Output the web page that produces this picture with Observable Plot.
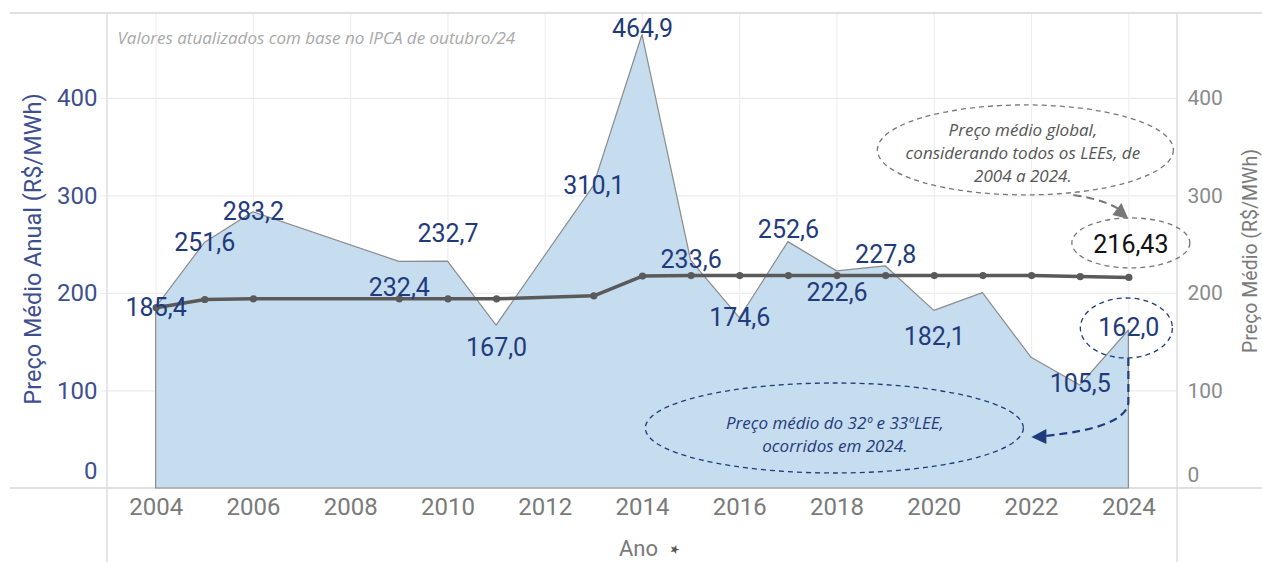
<!DOCTYPE html>
<html><head><meta charset="utf-8">
<script src="https://cdn.jsdelivr.net/npm/d3@7"></script>
<script src="https://cdn.jsdelivr.net/npm/@observablehq/plot@0.6"></script>
<style>
html,body{margin:0;padding:0;background:#fff;}
#chart{width:1262px;height:562px;overflow:hidden;}
#chart svg{overflow:visible;}
</style></head><body><div id="chart"></div>
<script>
// ---- data ----
const years         = [2004, 2005, 2006, 2009, 2010, 2011, 2013, 2014, 2015, 2016, 2017, 2018, 2019, 2020, 2021, 2022, 2023, 2024];
const annualPrice   = [185.4, 251.6, 283.2, 232.4, 232.7, 167.0, 310.1, 464.9, 233.6, 174.6, 252.6, 222.6, 227.8, 182.1, 200.3, 134.0, 105.5, 162.0];
const globalAverage = [185.4, 193.8, 194.5, 194.5, 194.5, 194.5, 197.5, 217.8, 218.3, 218.3, 218.3, 218.3, 218.3, 218.3, 218.3, 218.3, 217.3, 216.43];
const labeledYears  = [2004, 2005, 2006, 2009, 2010, 2011, 2013, 2014, 2015, 2016, 2017, 2018, 2019, 2020, 2023, 2024];
const xTicks = [2004, 2006, 2008, 2010, 2012, 2014, 2016, 2018, 2020, 2022, 2024];
const yTicks = [100, 200, 300, 400];
const yZero  = [0];
const globalAverageLabel = "216,43";
const leftTitle  = "Preço Médio Anual (R$/MWh)";
const rightTitle = "Preço Médio (R$/MWh)";
const xTitle     = "Ano";
const noteText   = "Valores atualizados com base no IPCA de outubro/24";
const globalNote = "Preço médio global,\nconsiderando todos os LEEs, de\n2004 a 2024.";
const recentNote = "Preço médio do 32º e 33ºLEE,\nocorridos em 2024.";

// label placement (pixel offsets, not data)
const labelDy = {2004:0, 2005:0, 2006:0, 2009:26, 2010:-28, 2011:22, 2013:0, 2014:-6, 2015:-1, 2016:0, 2017:-12, 2018:22, 2019:-11, 2020:26, 2023:-2, 2024:-2};

const data = years.map((year, i) => ({year, price: annualPrice[i], avg: globalAverage[i]}));
const labeled = data.filter(d => labeledYears.includes(d.year));
const fmt = v => d3.format(".1f")(v).replace(".", ",");
const lastYear = years[years.length - 1];
const lastAvg = globalAverage[globalAverage.length - 1];
const lastPrice = annualPrice[annualPrice.length - 1];

const navy = "#1f3b7b";
const axisBlue = "#3d4f8f";

function frameLines(index, scales, values, dim) {
  const g = d3.create("svg:g");
  const {width, height, marginLeft, marginRight, marginTop, marginBottom} = dim;
  const yb = height - marginBottom;
  const xl = marginLeft, xr = width - marginRight;
  g.append("line").attr("x1", 10).attr("x2", width).attr("y1", marginTop).attr("y2", marginTop).attr("stroke", "#d6d6d6").attr("stroke-width", 1.5);
  g.append("line").attr("x1", 10).attr("x2", width).attr("y1", yb).attr("y2", yb).attr("stroke", "#d6d6d6").attr("stroke-width", 1.5);
  g.append("line").attr("x1", xl).attr("x2", xl).attr("y1", marginTop).attr("y2", height).attr("stroke", "#dedede").attr("stroke-width", 1.5);
  g.append("line").attr("x1", xr).attr("x2", xr).attr("y1", marginTop).attr("y2", height).attr("stroke", "#dedede").attr("stroke-width", 1.5);
  return g.node();
}

function annotations(index, scales) {
  const g = d3.create("svg:g");
  const gx = scales.x(lastYear), gy = scales.y(lastAvg);
  const rx = scales.x(lastYear), ry = scales.y(lastPrice);
  const ell = (cx, cy, a, b, color, dash) => g.append("ellipse")
    .attr("cx", cx).attr("cy", cy).attr("rx", a).attr("ry", b)
    .attr("fill", "none").attr("stroke", color).attr("stroke-width", 1.3).attr("stroke-dasharray", dash);
  // global average annotations
  ell(gx - 103, gy - 127, 148, 45, "#777", "5,4");
  ell(gx + 2.5, gy - 34, 59, 25, "#777", "5,4");
  g.append("path").attr("d", `M${gx-55},${gy-82} Q${gx-22},${gy-77} ${gx-7},${gy-66}`)
    .attr("fill", "none").attr("stroke", "#777").attr("stroke-width", 2).attr("stroke-dasharray", "8,5");
  g.append("path").attr("d", `M${gx},${gy-58} L${gx-16},${gy-62} L${gx-7},${gy-74} Z`).attr("fill", "#777");
  // recent annotations
  ell(rx - 2, ry - 2, 46, 30, navy, "5,4");
  ell(rx - 294, ry + 98, 189, 45, navy, "5,4");
  g.append("path").attr("d", `M${rx},${ry+28} L${rx},${ry+73} Q${rx-3},${ry+98} ${rx-84},${ry+106}`)
    .attr("fill", "none").attr("stroke", navy).attr("stroke-width", 2.2).attr("stroke-dasharray", "8,5");
  g.append("path").attr("d", `M${rx-97},${ry+107} L${rx-82},${ry+99} L${rx-82},${ry+114} Z`).attr("fill", navy);
  return g.node();
}

const chart = Plot.plot({
  width: 1262,
  height: 562,
  marginLeft: 107,
  marginRight: 85,
  marginTop: 13,
  marginBottom: 74,
  x: {domain: [2003, 2025]},
  y: {domain: [0, 487]},
  style: {fontFamily: "Roboto, 'DejaVu Sans', sans-serif", background: "#fff", overflow: "visible"},
  marks: [
    Plot.ruleX(xTicks, {stroke: "#efefef", strokeWidth: 1.2}),
    Plot.gridY({ticks: yTicks, stroke: "#ececec", strokeOpacity: 1, strokeWidth: 1.2}),
    Plot.axisY({ticks: yTicks, tickSize: 7, tickFormat: () => "", stroke: "#ececec"}),
    frameLines,
    Plot.areaY(data, {x: "year", y: "price", fill: "#c6dcef", stroke: "#8c8c8c", strokeWidth: 1.2}),
    Plot.lineY(data, {x: "year", y: "avg", stroke: "#5a5a5a", strokeWidth: 3.5}),
    Plot.dot(data, {x: "year", y: "avg", r: 3.6, fill: "#5a5a5a"}),
    ...labeled.map(d => Plot.text([d], {x: "year", y: "price", text: e => fmt(e.price), dy: labelDy[d.year], fill: navy, fontSize: 25})),
    // axes
    Plot.axisY({ticks: yTicks, tickSize: 0, tickPadding: 10, fontSize: 24, fill: axisBlue, label: null}),
    Plot.axisY({ticks: yZero, tickSize: 0, tickPadding: 10, fontSize: 24, fill: axisBlue, label: null, dy: -17}),
    Plot.axisY({anchor: "right", ticks: yTicks, tickSize: 0, tickPadding: 10, fontSize: 21, fill: "#8a8a8a", label: null}),
    Plot.axisY({anchor: "right", ticks: yZero, tickSize: 0, tickPadding: 10, fontSize: 21, fill: "#8a8a8a", label: null, dy: -13}),
    Plot.axisX({ticks: xTicks, tickFormat: d => String(d), tickSize: 0, tickPadding: 9, fontSize: 24, fill: "#7a7a7a", label: null}),
    // titles
    Plot.text([leftTitle], {frameAnchor: "left", rotate: -90, dx: -74, dy: -2, textAnchor: "middle", lineAnchor: "middle", fontSize: 23.5, fill: axisBlue}),
    Plot.text([rightTitle], {frameAnchor: "right", rotate: -90, dx: 73, dy: 0, textAnchor: "middle", lineAnchor: "middle", fontSize: 19.5, fill: "#7a7a7a"}),
    Plot.text([xTitle], {frameAnchor: "bottom", dy: 60, dx: -4, lineAnchor: "middle", fontSize: 22, fill: "#7a7a7a"}),
    Plot.text(["\u2605"], {frameAnchor: "bottom", dy: 61, dx: 32, lineAnchor: "middle", fontSize: 12, fill: "#555", rotate: 20}),
    Plot.text([noteText], {frameAnchor: "top-left", dx: 10, dy: 25, textAnchor: "start", lineAnchor: "middle", fontSize: 17, fontStyle: "italic", fill: "#a8a8a8", fontFamily: "'Open Sans', sans-serif"}),
    // annotations
    annotations,
    Plot.text([{year: lastYear, v: lastAvg}], {x: "year", y: "v", text: () => globalAverageLabel, dx: 2, dy: -32, fontSize: 25, fontWeight: 400, fill: "#111"}),
    Plot.text([{year: lastYear, v: lastAvg}], {x: "year", y: "v", text: () => globalNote, dx: -106, dy: -126, fontSize: 17, lineHeight: 1.35, fontStyle: "italic", fill: "#555", fontFamily: "'Open Sans', sans-serif"}),
    Plot.text([{year: lastYear, v: lastPrice}], {x: "year", y: "v", text: () => recentNote, dx: -294, dy: 103, fontSize: 17, lineHeight: 1.35, fontStyle: "italic", fill: navy, fontFamily: "'Open Sans', sans-serif"})
  ]
});
document.getElementById("chart").appendChild(chart);
</script>
</body></html>
